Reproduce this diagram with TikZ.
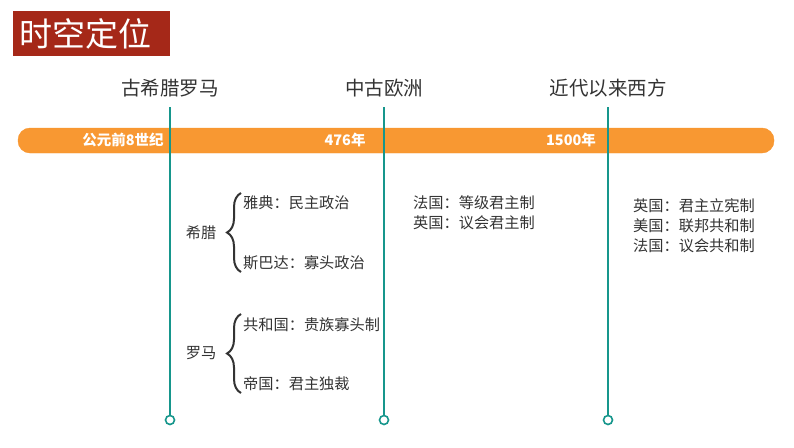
\documentclass[tikz,border=0pt]{standalone}
\usepackage{fontspec}
\setmainfont{Noto Sans CJK SC}
\usetikzlibrary{decorations.pathreplacing}

\definecolor{titelrot}{RGB}{165,40,24}
\definecolor{balken}{RGB}{248,152,50}
\definecolor{linie}{RGB}{22,150,140}
\definecolor{schrift}{RGB}{51,51,51}

\tikzset{
	kopf/.style={text=schrift, font=\fontsize{19.5}{22}\selectfont, inner sep=0pt},
	jahr/.style={text=white, font=\bfseries\fontsize{14.5}{16}\selectfont, inner sep=0pt},
	eintrag/.style={text=schrift, font=\fontsize{15.2}{17}\selectfont, inner sep=0pt, anchor=west},
	ende/.style={circle, draw=linie, line width=1.6pt, fill=white, minimum size=9pt, inner sep=0pt},
	klammer/.style={decorate, decoration={brace, amplitude=14pt}, line width=2pt, draw=schrift}
}

\begin{document}
\begin{tikzpicture}[x=1pt,y=-1pt]
		\useasboundingbox (0,0) rectangle (794,447);
		
		% Titel
		\fill[titelrot] (13,11) rectangle (170,56);
		\node[text=white, font=\fontsize{33}{36}\selectfont, inner sep=0pt] (titel) at (85,34) {时空定位};
		
		% Zeitleiste
		\draw[fill=balken, draw=balken!85!orange, rounded corners=12pt] (18,128) rectangle (774,153);
		\node[jahr] (j1) at (123,140) {公元前8世纪};
		\node[jahr] (j2) at (345,140) {476年};
		\node[jahr] (j3) at (571,140) {1500年};
		
		% Epochen oben
		\node[kopf] (antike) at (170,88) {古希腊罗马};
		\node[kopf] (mittel) at (384,88) {中古欧洲};
		\node[kopf] (neuzeit) at (608,88) {近代以来西方};
		
		% Senkrechte Linien
		\coordinate (o1) at (170,107);
		\coordinate (o2) at (384,107);
		\coordinate (o3) at (608,107);
		\node[ende] (u1) at (170,420) {};
		\node[ende] (u2) at (384,420) {};
		\node[ende] (u3) at (608,420) {};
		\draw[linie, line width=1.6pt] (o1) -- (u1);
		\draw[linie, line width=1.6pt] (o2) -- (u2);
		\draw[linie, line width=1.6pt] (o3) -- (u3);
		
		% Griechenland
		\node[eintrag, anchor=center] (gr) at (201,233) {希腊};
		\coordinate (gro) at (241,193);
		\coordinate (gru) at (241,272);
		\draw[klammer] (gru) -- (gro);
		\node[eintrag] (athen) at (243,203) {雅典：民主政治};
		\node[eintrag] (sparta) at (243,263) {斯巴达：寡头政治};
		
		% Rom
		\node[eintrag, anchor=center] (rom) at (201,353) {罗马};
		\coordinate (roo) at (241,314);
		\coordinate (rou) at (241,393);
		\draw[klammer] (rou) -- (roo);
		\node[eintrag] (rep) at (243,325) {共和国：贵族寡头制};
		\node[eintrag] (reich) at (243,384) {帝国：君主独裁};
		
		% Mittelalter
		\node[eintrag] (m1) at (413,203) {法国：等级君主制};
		\node[eintrag] (m2) at (413,223) {英国：议会君主制};
		
		% Neuzeit
		\node[eintrag] (n1) at (633,206) {英国：君主立宪制};
		\node[eintrag] (n2) at (633,226) {美国：联邦共和制};
		\node[eintrag] (n3) at (633,246) {法国：议会共和制};
		
	\end{tikzpicture}
\end{document}
